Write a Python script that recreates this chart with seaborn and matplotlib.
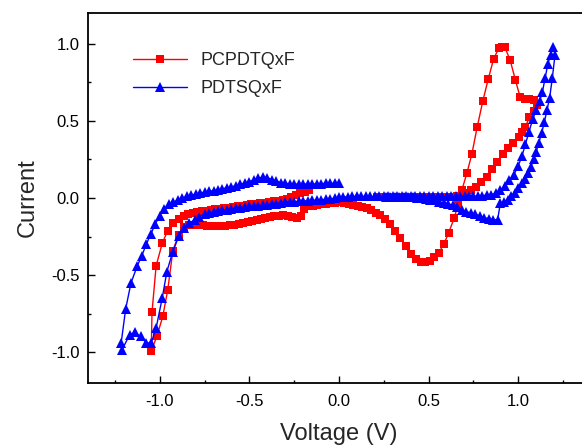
import matplotlib
matplotlib.use('Agg')
import matplotlib.pyplot as plt
import seaborn as sns
from matplotlib.ticker import MultipleLocator

# ---- PCPDTQxF (red squares), scan order as drawn ----
red_v = [
    # upper branch going negative
    -0.165, -0.19, -0.215, -0.24, -0.265, -0.29, -0.315, -0.34, -0.365, -0.39,
    -0.415, -0.44, -0.465, -0.49, -0.515, -0.54, -0.565, -0.59, -0.615, -0.64,
    -0.665, -0.69, -0.715, -0.74, -0.765, -0.79, -0.815,
    # outer steep drop
    -0.84, -0.865, -0.895, -0.925, -0.955, -0.985, -1.02, -1.043, -1.047,
    # inner rise
    -1.016, -0.983, -0.955, -0.927, -0.895, -0.866, -0.834,
    # lower branch going positive
    -0.81, -0.785, -0.76, -0.735, -0.71, -0.685, -0.66, -0.635, -0.61, -0.585,
    -0.56, -0.535, -0.51, -0.485, -0.46, -0.435, -0.41, -0.385, -0.36, -0.335,
    -0.31, -0.285, -0.26, -0.235, -0.21, -0.195, -0.17, -0.145, -0.12, -0.095,
    -0.07, -0.045, -0.02,
    # reduction dip and oxidation peak
    0.005, 0.03, 0.055, 0.08, 0.105, 0.13, 0.155, 0.18, 0.205, 0.226,
    0.254, 0.286, 0.313, 0.343, 0.375, 0.403, 0.431, 0.458, 0.482, 0.505,
    0.53, 0.557, 0.585, 0.612, 0.642, 0.665, 0.685, 0.713, 0.741, 0.771,
    0.802, 0.832, 0.862, 0.89, 0.91, 0.925, 0.955, 0.984, 1.01, 1.035,
    1.06, 1.085, 1.105,
    # return branch
    1.085, 1.062, 1.04, 1.02, 1.003, 0.973, 0.944, 0.914, 0.884, 0.854,
    0.824, 0.793, 0.765, 0.735, 0.71, 0.685, 0.66, 0.635, 0.61, 0.585,
    0.56, 0.535, 0.51, 0.485, 0.46, 0.435, 0.41, 0.385, 0.36, 0.335,
    0.31, 0.285, 0.26, 0.235, 0.21,
]
red_i = [
    0.05, 0.04, 0.03, 0.02, 0.008, -0.008, -0.015, -0.018, -0.022, -0.026,
    -0.03, -0.034, -0.038, -0.042, -0.046, -0.05, -0.054, -0.058, -0.062, -0.066,
    -0.07, -0.074, -0.078, -0.082, -0.087, -0.092, -0.098,
    -0.104, -0.114, -0.133, -0.164, -0.212, -0.29, -0.44, -0.74, -0.99,
    -0.898, -0.768, -0.595, -0.343, -0.239, -0.186, -0.175,
    -0.174, -0.175, -0.177, -0.179, -0.181, -0.182, -0.182, -0.18, -0.177, -0.173,
    -0.167, -0.16, -0.153, -0.146, -0.14, -0.134, -0.128, -0.123, -0.118, -0.114,
    -0.11, -0.115, -0.122, -0.128, -0.118, -0.07, -0.055, -0.05, -0.046, -0.042,
    -0.038, -0.034, -0.03,
    -0.027, -0.032, -0.038, -0.043, -0.05, -0.058, -0.068, -0.08, -0.095, -0.11,
    -0.138, -0.17, -0.214, -0.261, -0.311, -0.362, -0.397, -0.412, -0.416, -0.41,
    -0.385, -0.354, -0.298, -0.225, -0.131, -0.04, 0.05, 0.16, 0.285, 0.461,
    0.628, 0.77, 0.90, 0.97, 0.98, 0.978, 0.893, 0.764, 0.656, 0.645,
    0.645, 0.635, 0.60,
    0.565, 0.526, 0.461, 0.43, 0.397, 0.354, 0.322, 0.285, 0.235, 0.188,
    0.138, 0.106, 0.073, 0.05, 0.035, 0.02, 0.012, 0.008, 0.006, 0.006,
    0.006, 0.006, 0.006, 0.006, 0.006, 0.006, 0.006, 0.006, 0.006, 0.006,
    0.006, 0.006, 0.006, 0.006, 0.006,
]

# ---- PDTSQxF (blue triangles) ----
blue_v = [
    # upper branch going negative
    0.0, -0.025, -0.05, -0.075, -0.1, -0.125, -0.15, -0.175, -0.2, -0.225,
    -0.25, -0.275, -0.3, -0.325, -0.35, -0.375, -0.4, -0.425, -0.45, -0.475,
    -0.5, -0.525, -0.55, -0.575, -0.6, -0.625, -0.65, -0.675, -0.7, -0.725,
    -0.75, -0.775, -0.8, -0.825, -0.85, -0.875,
    # outer steep drop
    -0.9, -0.925, -0.95, -0.975, -1.0, -1.025, -1.05, -1.075, -1.1, -1.125,
    -1.16, -1.19, -1.215, -1.21,
    # bottom wiggle
    -1.168, -1.14, -1.107, -1.075, -1.047,
    # inner rise
    -1.02, -0.986, -0.96, -0.927, -0.893, -0.862, -0.835, -0.805, -0.78,
    # lower branch going positive
    -0.75, -0.725, -0.7, -0.675, -0.65, -0.625, -0.6, -0.575, -0.55, -0.525,
    -0.5, -0.475, -0.45, -0.425, -0.4, -0.375, -0.35, -0.325, -0.3, -0.275,
    -0.25, -0.225, -0.2, -0.175, -0.15, -0.125, -0.1, -0.075, -0.05, -0.025,
    0.0,
    # flat part
    0.025, 0.05, 0.075, 0.1, 0.125, 0.15, 0.175, 0.2, 0.225, 0.25,
    0.275, 0.3, 0.325, 0.35, 0.375, 0.4, 0.425, 0.45, 0.475, 0.5,
    0.525, 0.55, 0.575, 0.6, 0.625, 0.65, 0.675, 0.7, 0.725, 0.75,
    0.775, 0.8, 0.825, 0.85,
    # oxidation rise
    0.875, 0.9, 0.925, 0.95, 0.975, 1.0, 1.02, 1.04, 1.06, 1.08,
    1.1, 1.12, 1.135, 1.15, 1.165, 1.18, 1.195,
    # return
    1.205, 1.19, 1.175, 1.16, 1.145, 1.13, 1.115, 1.1, 1.085, 1.07,
    1.055, 1.04, 1.02, 1.0, 0.98, 0.96, 0.94, 0.92, 0.9,
    # reduction dip and back
    0.885, 0.86, 0.835, 0.81, 0.785, 0.76, 0.735, 0.71, 0.685, 0.66,
    0.635, 0.61, 0.585, 0.56, 0.535, 0.51, 0.485, 0.46, 0.435, 0.41,
    0.385, 0.36, 0.335, 0.31, 0.285, 0.26,
]
blue_i = [
    0.095, 0.095, 0.095, 0.095, 0.093, 0.092, 0.09, 0.09, 0.09, 0.09,
    0.09, 0.092, 0.095, 0.10, 0.11, 0.12, 0.132, 0.136, 0.128, 0.117,
    0.106, 0.097, 0.088, 0.08, 0.072, 0.066, 0.06, 0.054, 0.048, 0.043,
    0.038, 0.032, 0.025, 0.018, 0.01, 0.0,
    -0.015, -0.027, -0.04, -0.07, -0.115, -0.17, -0.235, -0.30, -0.375, -0.44,
    -0.55, -0.72, -0.94, -0.985,
    -0.887, -0.872, -0.898, -0.94, -0.94,
    -0.843, -0.649, -0.477, -0.348, -0.246, -0.196, -0.165, -0.14, -0.12,
    -0.105, -0.098, -0.092, -0.086, -0.081, -0.076, -0.071, -0.066, -0.062, -0.058,
    -0.055, -0.052, -0.049, -0.046, -0.043, -0.04, -0.037, -0.03, -0.028, -0.026,
    -0.024, -0.022, -0.02, -0.018, -0.016, -0.014, -0.012, -0.009, -0.006, -0.002,
    0.005,
    0.006, 0.008, 0.01, 0.01, 0.01, 0.01, 0.01, 0.01, 0.01, 0.01,
    0.01, 0.01, 0.01, 0.01, 0.01, 0.01, 0.01, 0.01, 0.01, 0.01,
    0.01, 0.01, 0.01, 0.01, 0.01, 0.01, 0.01, 0.01, 0.011, 0.012,
    0.013, 0.015, 0.018, 0.022,
    0.03, 0.05, 0.08, 0.115, 0.15, 0.21, 0.27, 0.35, 0.43, 0.51,
    0.57, 0.63, 0.69, 0.78, 0.87, 0.93, 0.98,
    0.93, 0.78, 0.65, 0.57, 0.49, 0.42, 0.36, 0.30, 0.25, 0.20,
    0.16, 0.125, 0.10, 0.065, 0.035, 0.01, -0.01, -0.025, -0.032,
    -0.14, -0.142, -0.135, -0.127, -0.117, -0.104, -0.098, -0.088, -0.075, -0.06,
    -0.048, -0.038, -0.032, -0.024, -0.016, -0.01, -0.005, 0.0, 0.002, 0.004,
    0.005, 0.006, 0.006, 0.006, 0.006, 0.006,
]

sns.set_style('ticks')
plt.rcParams['font.family'] = ['Liberation Sans', 'DejaVu Sans']
plt.rcParams['axes.unicode_minus'] = False

fig = plt.figure(figsize=(5.82, 4.45), dpi=100)
ax = fig.add_axes([88 / 582, 62 / 445, 502 / 582, 370 / 445])

sns.lineplot(x=red_v, y=red_i, sort=False, estimator=None, ax=ax,
             color='#ff0000', linewidth=1.0, marker='s', markersize=5.5,
             markeredgewidth=0, label='PCPDTQxF')
sns.lineplot(x=blue_v, y=blue_i, sort=False, estimator=None, ax=ax,
             color='#0000ff', linewidth=1.0, marker='^', markersize=6.5,
             markeredgewidth=0, label='PDTSQxF')

ax.set_xlim(-1.4, 1.4)
ax.set_ylim(-1.2, 1.2)
ax.xaxis.set_major_locator(MultipleLocator(0.5))
ax.xaxis.set_minor_locator(MultipleLocator(0.25))
ax.yaxis.set_major_locator(MultipleLocator(0.5))
ax.yaxis.set_minor_locator(MultipleLocator(0.25))
ax.tick_params(which='major', direction='in', length=5, width=1,
               labelsize=12, color='black', labelcolor='black')
ax.tick_params(which='minor', direction='in', length=2.5, width=1, color='black')
ax.tick_params(axis='x', which='major', pad=8)
ax.tick_params(axis='y', which='major', pad=6)
for s in ax.spines.values():
    s.set_linewidth(1.3)
    s.set_color('black')

ax.set_xlabel('Voltage (V)', fontsize=17, labelpad=10)
ax.set_ylabel('Current', fontsize=17, labelpad=9)

ax.legend(loc='upper left', bbox_to_anchor=(0.09, 0.895), frameon=False,
          fontsize=13, handlelength=3.0, handletextpad=0.72, labelspacing=0.62,
          borderpad=0, borderaxespad=0)

fig.savefig('out.png', dpi=100)
